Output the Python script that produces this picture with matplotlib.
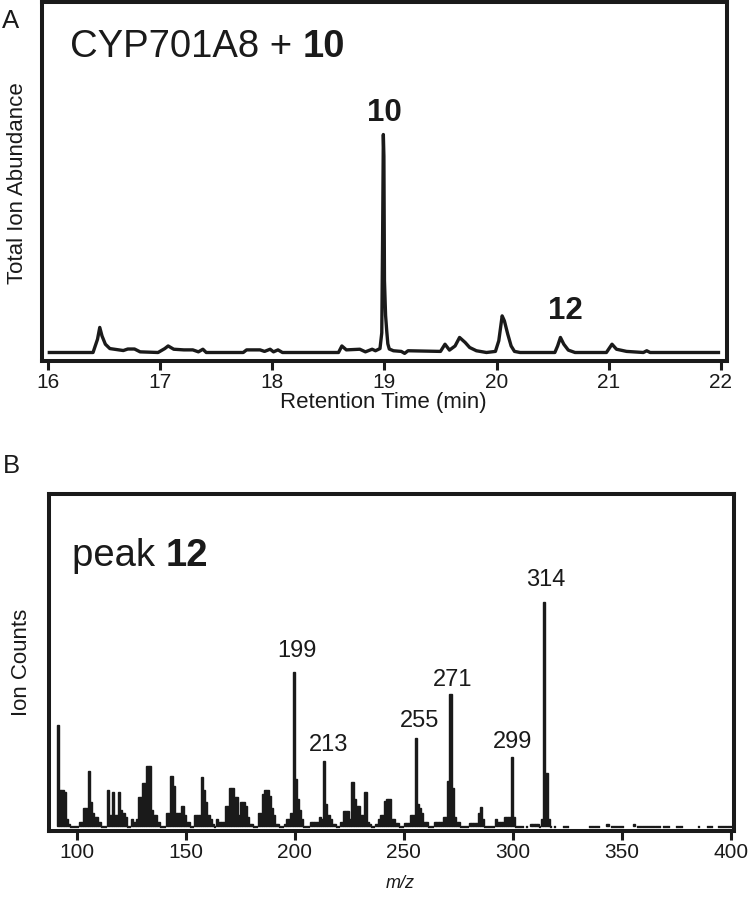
import matplotlib
matplotlib.use("Agg")
import matplotlib.pyplot as plt

plt.rcParams["font.family"] = ["Liberation Sans", "DejaVu Sans"]

INK = "#1a1a1a"

# ---- panel A: total ion chromatogram (relative abundance, peak 10 = 100) ----
rt_min = [16.01, 16.40, 16.44, 16.46, 16.48, 16.51, 16.55, 16.63, 16.67, 16.71,
          16.77, 16.82, 16.98, 17.04, 17.07, 17.12, 17.21, 17.29, 17.34, 17.38,
          17.41, 17.74, 17.77, 17.89, 17.93, 17.98, 18.01, 18.05, 18.09, 18.59,
          18.62, 18.66, 18.78, 18.83, 18.89, 18.92, 18.96, 18.976, 18.983, 18.99,
          18.995, 19.00, 19.01, 19.02, 19.03, 19.043, 19.08, 19.15, 19.18, 19.21,
          19.50, 19.54, 19.58, 19.63, 19.67, 19.72, 19.76, 19.82, 19.91, 19.99,
          20.02, 20.04, 20.05, 20.07, 20.10, 20.13, 20.16, 20.21, 20.52, 20.545,
          20.57, 20.60, 20.64, 20.70, 20.98, 21.03, 21.07, 21.16, 21.31, 21.34,
          21.37, 21.98]
tic = [0, 0, 6.1, 11.5, 7.6, 3.8, 1.8, 1.2, 0.9, 1.6,
       1.6, 0.3, 0, 1.8, 3.0, 1.5, 1.2, 1.2, 0.3, 1.5,
       0, 0, 1.2, 1.2, 0.5, 1.5, 0.3, 1.2, 0, 0,
       3.0, 1.2, 1.5, 0.3, 1.5, 0.8, 1.8, 9, 50, 100,
       90, 33, 17, 10, 4, 1.6, 0.8, 0.5, -0.4, 0.8,
       0.5, 3.8, 1.1, 3.0, 6.9, 4.6, 2.3, 0.8, 0, 0.5,
       5.4, 13, 16.8, 14.5, 8.4, 3.0, 0.5, 0, 0, 3,
       6.9, 3.8, 1.1, 0, 0, 3.8, 1.5, 0.5, 0, 0.8,
       0, 0]

tic_peak_names = ["10", "12"]
tic_peak_rt = [19.00, 20.61]
tic_peak_y = [106, 15.3]

# ---- panel B: mass spectrum of peak 12 (m/z 314 = 100) ----
ms_mz = [91, 92, 93, 94, 95, 96, 97, 98, 99, 100,
         101, 102, 103, 104, 105, 106, 107, 108, 109, 110, 111, 112, 113,
         114, 115, 116, 117, 118, 119, 120, 121, 122, 123, 124, 125,
         126, 127, 128, 129, 130, 131, 132, 133, 134, 135, 136, 137, 138, 139, 140,
         141, 142, 143, 144, 145, 146, 147, 148, 149, 150, 151, 152, 153,
         154, 155, 156, 157, 158, 159, 160, 161, 162, 163, 164, 165, 166, 167,
         168, 169, 170, 171, 172, 173, 174, 175, 176, 177, 178, 179, 180, 181, 182,
         183, 184, 185, 186, 187, 188, 189, 190, 191, 192, 193, 194, 195, 196, 197, 198,
         199, 200, 201, 202, 203, 204, 205, 206, 207, 208, 209, 210, 211, 212,
         213, 214, 215, 216, 217, 218, 219, 220, 221, 222, 223, 224, 225,
         226, 227, 228, 229, 230, 231, 232, 233, 234, 235, 236,
         237, 238, 239, 240, 241, 242, 243, 244, 245, 246, 247, 248, 249,
         250, 251, 252, 253, 254, 255, 256, 257, 258, 259, 260, 261, 262, 263,
         264, 265, 266, 267, 268, 269, 270, 271, 272, 273, 274, 275, 276, 277, 278, 279,
         280, 281, 282, 283, 284, 285, 286, 287, 288, 289, 290, 291,
         292, 293, 294, 295, 296, 297, 298, 299, 300, 301, 302, 303, 304, 306,
         308, 309, 310, 311, 312, 313, 314, 315, 316, 317, 319, 323, 324, 325,
         335, 336, 337, 338, 339, 343, 345, 346, 347, 348, 349, 350, 355,
         357, 358, 359, 360, 361, 362, 363, 364, 365, 366, 367, 369, 370, 371,
         375, 376, 377, 385, 389, 390, 391, 394, 395, 396, 397, 398, 399, 400]
ms_counts = [45, 16, 16, 15, 3, 1, -1, -1, -1, -1,
             2, 2, 8, 8, 24.5, 10.5, 6, 4, 4, 2, -1, -1, -1,
             16, 5, 15, 5, 5, 15, 7, 6, 4, -1, -1, 3,
             2, 3, 13, 13, 19, 19, 27, 27, 7, 5, 5, 2, -1, -1, -1,
             6, 6, 22.5, 18, 6, 6, 6, 9, 5, 2, 2, -1, -1,
             5, 5, 5, 22, 16, 10.5, 5, 3, 1, -1, 3, 2, 2, 2,
             9, 9, 17, 17, 13, 13, 5, 10.5, 10.5, 9, 4, 1, 1, -1, -1,
             6, 6, 14.5, 16, 16, 13.5, 8, 5, 1, 1, -1, -1, 1, 3, 3, 6,
             68.7, 20.8, 12, 7, 3, -1, -1, -1, 2, 2, 2, 2, 4, 3,
             29, 10, 5, 3, 1, 1, -1, -1, 2, 6.5, 6.5, 6.5, 3,
             19.6, 12, 9, 9, 5, 5, 15, 2, 1, -1, -1,
             1, 3, 5, 5, 11, 12, 12, 3, 3, 1.5, 1.5, -1, -1,
             1.5, 1.5, 1.5, 5, 5, 39.4, 9.6, 8, 6, 2, 2, -1, -1, -1,
             2, 2, 2, 2, 4, 4, 20, 58.7, 17, 4, 2, 2, -1, -1, -1, -1,
             1.5, 1.5, 1.5, 1.5, 6, 8.7, 3, -1, -1, -1, -1, -1,
             3, 2, 2, 2, 3.8, 3.8, 3.8, 30.7, 3.8, -1, -1, -1, -1, -1,
             1, 1, 1, 1, -1, 3, 100, 23.7, 3, -1, -1, -1, -1, -1,
             -1, -1, -1, -1, -1, 1, -1, -1, -1, -1, -1, -1, 1,
             -1, -1, -1, -1, -1, -1, -1, -1, -1, -1, -1, -1, -1, -1,
             -1, -1, -1, -1, -1, -1, -1, -1, -1, -1, -1, -1, -1, -1]

ion_labels = [199, 213, 255, 271, 299, 314]
# label offsets above the bar tops, in points (dx, dy)
ion_label_offsets = [(2.2, 10.6), (3.2, 7.2), (3.1, 7.4), (1.7, 5.8), (1.0, 6.7), (1.2, 11.5)]

W, H = 750, 905
fig = plt.figure(figsize=(W / 100, H / 100), dpi=100)


def px_axes(left, top, right, bottom):
    return fig.add_axes([left / W, 1 - bottom / H, (right - left) / W, (bottom - top) / H])


def style_box(ax):
    for sp in ax.spines.values():
        sp.set_linewidth(2.9)
        sp.set_color(INK)
    ax.tick_params(axis="x", direction="out", length=6.5, width=2.2, color=INK,
                   labelsize=15, pad=2, labelcolor=INK)
    ax.tick_params(axis="y", left=False, labelleft=False)


# ===== panel A =====
ax1 = px_axes(41.7, 2, 727, 361)
ax1.plot(rt_min, tic, color=INK, lw=2.4, solid_joinstyle="round")
ax1.set_xlim(15.942, 22.056)
ax1.set_ylim(-3.9, 160.8)
ax1.set_xticks(range(16, 23))
style_box(ax1)
for name, t, y in zip(tic_peak_names, tic_peak_rt, tic_peak_y):
    ax1.text(t, y, name, ha="center", va="baseline", fontsize=22.5,
             fontweight="bold", color=INK)

t_a = fig.text(70 / W, 1 - 56.7 / H, "CYP701A8 + ", fontsize=27.5, color=INK,
               va="baseline", ha="left")
ax1.annotate("10", xy=(1, 0), xycoords=t_a, ha="left", va="bottom",
             fontsize=27.5, fontweight="bold", color=INK, annotation_clip=False)

fig.text(2 / W, 1 - 28.3 / H, "A", fontsize=18.5, color=INK, va="baseline")
fig.text(18 / W, 1 - 183 / H, "Total Ion Abundance", rotation=90,
         ha="center", va="center", fontsize=16, color=INK)
fig.text(383 / W, 1 - 402 / H, "Retention Time (min)", ha="center",
         va="center", fontsize=16, color=INK)

# ===== panel B =====
ax2 = px_axes(49, 494, 734, 830.7)
pos = [(m, c) for m, c in zip(ms_mz, ms_counts) if c > 0]
neg = [(m, c) for m, c in zip(ms_mz, ms_counts) if c <= 0]
ax2.bar([p[0] for p in pos], [p[1] for p in pos], width=1.0, align="edge",
        color=INK, edgecolor=INK, linewidth=1.0)
ax2.bar([n[0] for n in neg], [n[1] for n in neg], width=1.0, align="edge",
        color=INK, edgecolor=INK, linewidth=0.2)
ax2.set_xlim(87.3, 401.5)
ax2.set_ylim(-2.1, 148.2)
ax2.set_xticks(range(100, 401, 50))
style_box(ax2)

count_of = dict(zip(ms_mz, ms_counts))
for mz, (dx, dy) in zip(ion_labels, ion_label_offsets):
    ax2.annotate(str(mz), xy=(mz + 0.5, count_of[mz]), xytext=(dx, dy),
                 textcoords="offset points", ha="center", va="baseline",
                 fontsize=17, color=INK)

t_b = fig.text(72 / W, 1 - 566 / H, "peak ", fontsize=27.5, color=INK,
               va="baseline", ha="left")
ax2.annotate("12", xy=(1, 0), xycoords=t_b, ha="left", va="bottom",
             fontsize=27.5, fontweight="bold", color=INK, annotation_clip=False)

fig.text(3 / W, 1 - 473 / H, "B", fontsize=18.5, color=INK, va="baseline")
fig.text(22 / W, 1 - 662 / H, "Ion Counts", rotation=90, ha="center",
         va="center", fontsize=16, color=INK)
fig.text(400 / W, 1 - 883 / H, "m/z", ha="center", va="center",
         fontsize=13, style="italic", color=INK)

fig.savefig("out.png", dpi=100)
